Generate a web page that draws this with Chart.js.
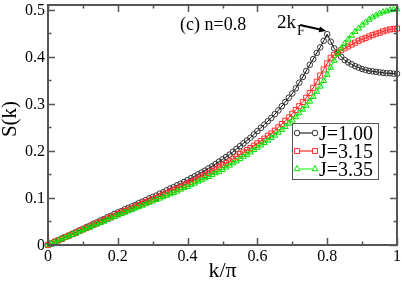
<!DOCTYPE html>
<html>
<head>
<meta charset="utf-8">
<script src="https://cdn.jsdelivr.net/npm/chart.js@4.4.1/dist/chart.umd.min.js"></script>
<style>
  body { margin: 0; background: #fff; }
  #chart { display: block; }
</style>
</head>
<body>
<canvas id="chart" width="402" height="281"></canvas>
<script>
// k/pi values (x axis)
var kValues = [
  0.00, 0.01, 0.02, 0.03, 0.04, 0.05, 0.06, 0.07, 0.08, 0.09,
  0.10, 0.11, 0.12, 0.13, 0.14, 0.15, 0.16, 0.17, 0.18, 0.19,
  0.20, 0.21, 0.22, 0.23, 0.24, 0.25, 0.26, 0.27, 0.28, 0.29,
  0.30, 0.31, 0.32, 0.33, 0.34, 0.35, 0.36, 0.37, 0.38, 0.39,
  0.40, 0.41, 0.42, 0.43, 0.44, 0.45, 0.46, 0.47, 0.48, 0.49,
  0.50, 0.51, 0.52, 0.53, 0.54, 0.55, 0.56, 0.57, 0.58, 0.59,
  0.60, 0.61, 0.62, 0.63, 0.64, 0.65, 0.66, 0.67, 0.68, 0.69,
  0.70, 0.71, 0.72, 0.73, 0.74, 0.75, 0.76, 0.77, 0.78, 0.79,
  0.80, 0.81, 0.82, 0.83, 0.84, 0.85, 0.86, 0.87, 0.88, 0.89,
  0.90, 0.91, 0.92, 0.93, 0.94, 0.95, 0.96, 0.97, 0.98, 0.99,
  1.00
];

// S(k) for J=1.00
var sJ100 = [
  0.000, 0.003, 0.007, 0.010, 0.014, 0.017, 0.020, 0.024, 0.027, 0.031,
  0.034, 0.038, 0.041, 0.045, 0.048, 0.052, 0.055, 0.059, 0.062, 0.066,
  0.069, 0.072, 0.076, 0.079, 0.082, 0.085, 0.089, 0.092, 0.095, 0.099,
  0.102, 0.105, 0.109, 0.112, 0.116, 0.120, 0.123, 0.127, 0.130, 0.134,
  0.138, 0.142, 0.146, 0.150, 0.154, 0.158, 0.163, 0.167, 0.172, 0.177,
  0.182, 0.187, 0.192, 0.198, 0.204, 0.210, 0.216, 0.222, 0.228, 0.235,
  0.242, 0.249, 0.256, 0.263, 0.270, 0.278, 0.286, 0.295, 0.304, 0.313,
  0.322, 0.333, 0.345, 0.357, 0.370, 0.383, 0.395, 0.408, 0.420, 0.434,
  0.448, 0.432, 0.418, 0.408, 0.400, 0.393, 0.388, 0.384, 0.380, 0.377,
  0.374, 0.372, 0.370, 0.369, 0.368, 0.367, 0.366, 0.365, 0.365, 0.364,
  0.364
];

// S(k) for J=3.15
var sJ315 = [
  0.000, 0.003, 0.007, 0.010, 0.013, 0.017, 0.020, 0.023, 0.026, 0.030,
  0.033, 0.036, 0.039, 0.043, 0.046, 0.049, 0.053, 0.056, 0.059, 0.062,
  0.066, 0.069, 0.072, 0.075, 0.078, 0.082, 0.085, 0.088, 0.091, 0.094,
  0.097, 0.100, 0.104, 0.107, 0.110, 0.113, 0.117, 0.120, 0.123, 0.127,
  0.130, 0.134, 0.137, 0.141, 0.145, 0.149, 0.153, 0.157, 0.161, 0.166,
  0.170, 0.174, 0.178, 0.183, 0.188, 0.193, 0.197, 0.202, 0.206, 0.211,
  0.216, 0.221, 0.226, 0.232, 0.237, 0.243, 0.250, 0.257, 0.264, 0.271,
  0.279, 0.287, 0.295, 0.304, 0.313, 0.323, 0.334, 0.347, 0.360, 0.373,
  0.386, 0.398, 0.404, 0.409, 0.414, 0.418, 0.422, 0.426, 0.430, 0.434,
  0.437, 0.440, 0.443, 0.446, 0.449, 0.451, 0.454, 0.456, 0.458, 0.459,
  0.460
];

// S(k) for J=3.35
var sJ335 = [
  0.000, 0.003, 0.006, 0.010, 0.013, 0.016, 0.019, 0.022, 0.025, 0.028,
  0.032, 0.035, 0.038, 0.041, 0.044, 0.047, 0.050, 0.054, 0.057, 0.060,
  0.063, 0.066, 0.069, 0.072, 0.075, 0.078, 0.081, 0.084, 0.087, 0.090,
  0.093, 0.096, 0.099, 0.102, 0.105, 0.108, 0.111, 0.114, 0.118, 0.121,
  0.124, 0.128, 0.131, 0.135, 0.138, 0.142, 0.145, 0.149, 0.153, 0.156,
  0.160, 0.165, 0.169, 0.174, 0.178, 0.183, 0.188, 0.192, 0.197, 0.202,
  0.207, 0.212, 0.217, 0.222, 0.228, 0.233, 0.239, 0.245, 0.251, 0.258,
  0.265, 0.272, 0.280, 0.288, 0.296, 0.305, 0.315, 0.326, 0.337, 0.349,
  0.362, 0.377, 0.392, 0.406, 0.418, 0.428, 0.437, 0.445, 0.453, 0.460,
  0.467, 0.473, 0.479, 0.484, 0.488, 0.492, 0.495, 0.497, 0.499, 0.500,
  0.501
];

var seriesLabels = ['J=1.00', 'J=3.15', 'J=3.35'];

var xTicks = [0, 0.2, 0.4, 0.6, 0.8, 1];
var xTickLabels = ['0', '0.2', '0.4', '0.6', '0.8', '1'];
var xMinor = [0.1, 0.3, 0.5, 0.7, 0.9];
var yTicks = [0, 0.1, 0.2, 0.3, 0.4, 0.5];
var yTickLabels = ['0', '0.1', '0.2', '0.3', '0.4', '0.5'];
var yMinor = [0.05, 0.15, 0.25, 0.35, 0.45];

function pts(arr) {
  return kValues.map(function (k, i) { return { x: k, y: arr[i] }; });
}

var serif = '"Liberation Serif", "DejaVu Serif", serif';

// frame with inward ticks, labels, legend box and annotations
var grace = {
  id: 'grace',
  afterDatasetsDraw: function (chart) {
    var ctx = chart.ctx, a = chart.chartArea;
    var xs = chart.scales.x, ys = chart.scales.y;
    ctx.save();

    // legend box
    var lx = 292, ly = 123, lw = 86, lh = 56;
    ctx.fillStyle = '#fff';
    ctx.fillRect(lx, ly, lw, lh);
    ctx.strokeStyle = '#555';
    ctx.lineWidth = 1;
    ctx.strokeRect(lx + 0.5, ly + 0.5, lw, lh);
    chart.data.datasets.forEach(function (ds, i) {
      var cy = ly + 10 + i * 18;
      ctx.strokeStyle = ds.borderColor;
      ctx.lineWidth = 1;
      ctx.beginPath();
      ctx.moveTo(300, cy);
      ctx.lineTo(312, cy);
      ctx.stroke();
      [297, 315].forEach(function (px) {
        ctx.fillStyle = 'rgba(0,0,0,0)';
        ctx.strokeStyle = ds.pointBorderColor;
        ctx.lineWidth = 1;
        Chart.helpers.drawPoint(ctx, {
          pointStyle: ds.pointStyle, radius: ds.pointRadius, borderWidth: 1
        }, px, cy);
      });
      ctx.fillStyle = '#000';
      ctx.font = '20px ' + serif;
      ctx.textAlign = 'left';
      ctx.textBaseline = 'alphabetic';
      ctx.fillText(ds.label, 319, cy + 7);
    });

    // frame
    ctx.strokeStyle = '#555';
    ctx.lineWidth = 2;
    ctx.strokeRect(a.left, a.top, a.right - a.left, a.bottom - a.top);

    // ticks
    ctx.lineWidth = 1.5;
    ctx.beginPath();
    function xt(v, len) {
      var p = Math.round(xs.getPixelForValue(v)) + 0.5;
      ctx.moveTo(p, a.bottom); ctx.lineTo(p, a.bottom - len);
      ctx.moveTo(p, a.top); ctx.lineTo(p, a.top + len);
    }
    function yt(v, len) {
      var p = Math.round(ys.getPixelForValue(v)) + 0.5;
      ctx.moveTo(a.left, p); ctx.lineTo(a.left + len, p);
      ctx.moveTo(a.right, p); ctx.lineTo(a.right - len, p);
    }
    xTicks.forEach(function (v) { xt(v, 7); });
    xMinor.forEach(function (v) { xt(v, 3.5); });
    yTicks.forEach(function (v) { yt(v, 7); });
    yMinor.forEach(function (v) { yt(v, 3.5); });
    ctx.stroke();

    // tick labels
    ctx.fillStyle = '#000';
    ctx.font = '16px ' + serif;
    ctx.textAlign = 'center';
    ctx.textBaseline = 'alphabetic';
    xTicks.forEach(function (v, i) {
      ctx.fillText(xTickLabels[i], xs.getPixelForValue(v), a.bottom + 16);
    });
    ctx.textAlign = 'right';
    yTicks.forEach(function (v, i) {
      ctx.fillText(yTickLabels[i], 45, ys.getPixelForValue(v) + 5);
    });

    // axis titles
    ctx.font = '22px ' + serif;
    ctx.textAlign = 'center';
    ctx.fillText('k/\u03c0', (a.left + a.right) / 2, 277);
    ctx.save();
    ctx.translate(10, 119);
    ctx.rotate(-Math.PI / 2);
    ctx.textBaseline = 'middle';
    ctx.font = '21px ' + serif;
    ctx.fillText('S(k)', 0, 0);
    ctx.restore();

    // annotations
    ctx.textAlign = 'left';
    ctx.font = '18px ' + serif;
    ctx.fillText('(c) n=0.8', 180, 30);
    ctx.font = '19px ' + serif;
    ctx.fillText('2k', 277, 28);
    ctx.font = '14px ' + serif;
    ctx.fillText('F', 297, 35);

    // arrow to the 2kF peak
    var ex = xs.getPixelForValue(0.797), ey = ys.getPixelForValue(0.455);
    var sx = 300, sy = 25;
    var ang = Math.atan2(ey - sy, ex - sx);
    ctx.strokeStyle = '#000';
    ctx.lineWidth = 2;
    ctx.beginPath();
    ctx.moveTo(sx, sy);
    ctx.lineTo(ex - 5 * Math.cos(ang), ey - 5 * Math.sin(ang));
    ctx.stroke();
    ctx.fillStyle = '#000';
    ctx.beginPath();
    ctx.moveTo(ex, ey);
    ctx.lineTo(ex - 7 * Math.cos(ang) + 3 * Math.sin(ang), ey - 7 * Math.sin(ang) - 3 * Math.cos(ang));
    ctx.lineTo(ex - 7 * Math.cos(ang) - 3 * Math.sin(ang), ey - 7 * Math.sin(ang) + 3 * Math.cos(ang));
    ctx.closePath();
    ctx.fill();

    ctx.restore();
  }
};

var ctx = document.getElementById('chart').getContext('2d');
var chart = new Chart(ctx, {
  type: 'line',
  data: {
    datasets: [{
      label: seriesLabels[0],
      data: pts(sJ100),
      borderColor: '#000',
      borderWidth: 1,
      pointStyle: 'circle',
      pointRadius: 2.8,
      pointBorderWidth: 1,
      pointBorderColor: '#333',
      pointBackgroundColor: 'rgba(0,0,0,0)',
      order: 3,
      clip: 8
    }, {
      label: seriesLabels[1],
      data: pts(sJ315),
      borderColor: '#ff0000',
      borderWidth: 1,
      pointStyle: 'rect',
      pointRadius: 3.6,
      pointBorderWidth: 1,
      pointBorderColor: '#ff3030',
      pointBackgroundColor: 'rgba(0,0,0,0)',
      order: 2,
      clip: 8
    }, {
      label: seriesLabels[2],
      data: pts(sJ335),
      borderColor: '#00ff00',
      borderWidth: 1,
      pointStyle: 'triangle',
      pointRadius: 3.4,
      pointBorderWidth: 1,
      pointBorderColor: '#00e000',
      pointBackgroundColor: 'rgba(0,0,0,0)',
      order: 1,
      clip: 8
    }]
  },
  options: {
    responsive: false,
    devicePixelRatio: 1,
    animation: false,
    events: [],
    layout: { padding: { left: 48, right: 4, top: 2, bottom: 36 } },
    scales: {
      x: { type: 'linear', min: 0, max: 1, display: false },
      y: { type: 'linear', min: 0, max: 0.51, display: false }
    },
    elements: { line: { tension: 0 } },
    plugins: {
      legend: { display: false },
      tooltip: { enabled: false }
    }
  },
  plugins: [grace]
});
</script>
</body>
</html>
